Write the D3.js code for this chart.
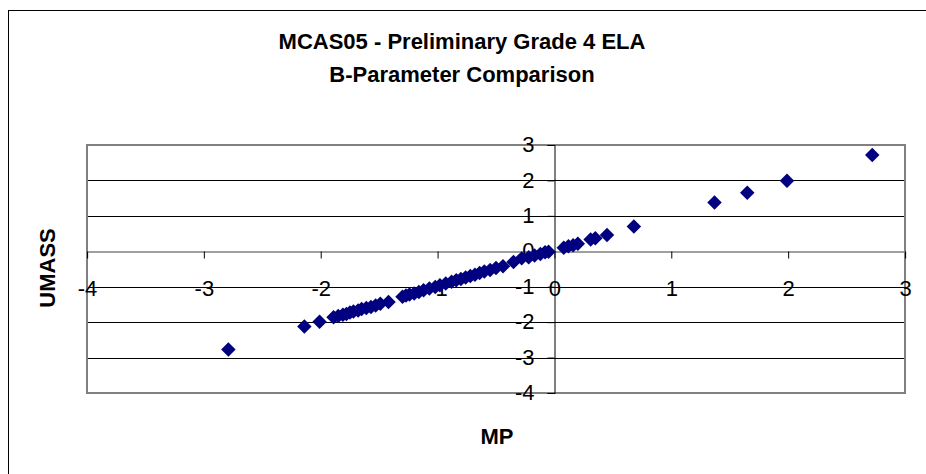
<!DOCTYPE html>
<html><head><meta charset="utf-8">
<script src="https://cdn.jsdelivr.net/npm/d3@7"></script>
<style>html,body{margin:0;padding:0;background:#fff;}svg{display:block;}</style>
</head><body>
<svg id="chart" width="926" height="474"></svg>
<script>
const titleLines = ["MCAS05 - Preliminary Grade 4 ELA", "B-Parameter Comparison"];
const xTitle = "MP";
const yTitle = "UMASS";
const xTicks = [-4, -3, -2, -1, 0, 1, 2, 3];
const yTicks = [-4, -3, -2, -1, 0, 1, 2, 3];
const mpValues = [-2.79,-2.14,-2.01,-1.89,-1.85,-1.81,-1.78,-1.75,-1.72,-1.68,-1.65,-1.61,-1.57,-1.53,-1.49,-1.42,-1.30,-1.27,-1.24,-1.20,-1.16,-1.12,-1.07,-1.02,-0.98,-0.93,-0.88,-0.84,-0.80,-0.76,-0.72,-0.68,-0.64,-0.60,-0.55,-0.50,-0.44,-0.35,-0.28,-0.22,-0.17,-0.12,-0.08,-0.05,0.08,0.12,0.16,0.20,0.31,0.35,0.45,0.68,1.37,1.65,1.99,2.72];
const umassValues = [-2.77,-2.12,-1.99,-1.86,-1.83,-1.79,-1.77,-1.73,-1.70,-1.67,-1.63,-1.60,-1.57,-1.53,-1.48,-1.43,-1.28,-1.25,-1.22,-1.19,-1.15,-1.10,-1.05,-1.01,-0.96,-0.91,-0.86,-0.82,-0.78,-0.74,-0.70,-0.66,-0.61,-0.57,-0.53,-0.47,-0.42,-0.30,-0.20,-0.17,-0.12,-0.08,-0.03,-0.01,0.10,0.14,0.17,0.21,0.33,0.37,0.46,0.70,1.38,1.65,1.99,2.72];

const svg = d3.select("#chart");
const font = "Arimo, 'Liberation Sans', Arial, sans-serif";
const L = 87, R = 905, T = 145, B = 393;
const x = d3.scaleLinear().domain([-4, 3]).range([L, R]);
const y = d3.scaleLinear().domain([-4, 3]).range([B, T]);
const fmt = d => String(d);

// outer chart frame
svg.append("rect").attr("x", 8.5).attr("y", 10.5).attr("width", 940).attr("height", 500)
  .attr("fill", "none").attr("stroke", "#000").attr("stroke-width", 1);

// titles
svg.selectAll("text.title").data(titleLines).join("text").attr("class","title")
  .attr("x", 462).attr("y", (d,i) => 49 + i*33)
  .attr("text-anchor","middle").attr("font-family", font).attr("font-weight","bold")
  .attr("font-size", 22).attr("fill","#000").text(d => d);

// gridlines
svg.append("g").selectAll("line").data(yTicks.filter(v => v !== 0 && v !== 3 && v !== -4)).join("line")
  .attr("x1", L).attr("x2", R).attr("y1", d => Math.round(y(d)) + 0.5).attr("y2", d => Math.round(y(d)) + 0.5)
  .attr("stroke", "#000").attr("stroke-width", 1);

// plot area border
svg.append("rect").attr("x", L).attr("y", T).attr("width", R - L).attr("height", B - T)
  .attr("fill", "none").attr("stroke", "#808080").attr("stroke-width", 2);

// x axis at y=0
const xAxis = d3.axisBottom(x).tickValues(xTicks).tickSize(7).tickFormat(fmt);
const gx = svg.append("g").attr("transform", `translate(0,${Math.round(y(0)) + 0.5})`).call(xAxis);
gx.select(".domain").attr("stroke", "#808080").attr("stroke-width", 1.5);
gx.selectAll(".tick line").attr("stroke", "#000");
gx.selectAll(".tick text").attr("font-family", font).attr("font-size", 22).attr("fill", "#000")
  .attr("dy", 0).attr("y", 44);

// y axis at x=0
const yAxis = d3.axisLeft(y).tickValues(yTicks).tickSize(7).tickFormat(fmt);
const gy = svg.append("g").attr("transform", `translate(${Math.round(x(0)) + 0.5},0)`).call(yAxis);
gy.select(".domain").attr("stroke", "#000").attr("stroke-width", 1);
gy.selectAll(".tick line").attr("stroke", "#000");
gy.selectAll(".tick text").attr("font-family", font).attr("font-size", 22).attr("fill", "#000")
  .attr("x", -20).attr("dy", "0.3em");

// markers
const pts = mpValues.map((v, i) => [v, umassValues[i]]);
const diamond = d3.symbol().type(d3.symbolSquare).size(105);
svg.append("g").selectAll("path").data(pts).join("path")
  .attr("d", diamond)
  .attr("transform", d => `translate(${x(d[0])},${y(d[1])}) rotate(45)`)
  .attr("fill", "#000080");

// axis titles
svg.append("text").attr("x", 497).attr("y", 444).attr("text-anchor","middle")
  .attr("font-family", font).attr("font-weight","bold").attr("font-size", 22).text(xTitle);
svg.append("text").attr("transform", "translate(55,268) rotate(-90)").attr("text-anchor","middle")
  .attr("font-family", font).attr("font-weight","bold").attr("font-size", 22).text(yTitle);
</script>
</body></html>
